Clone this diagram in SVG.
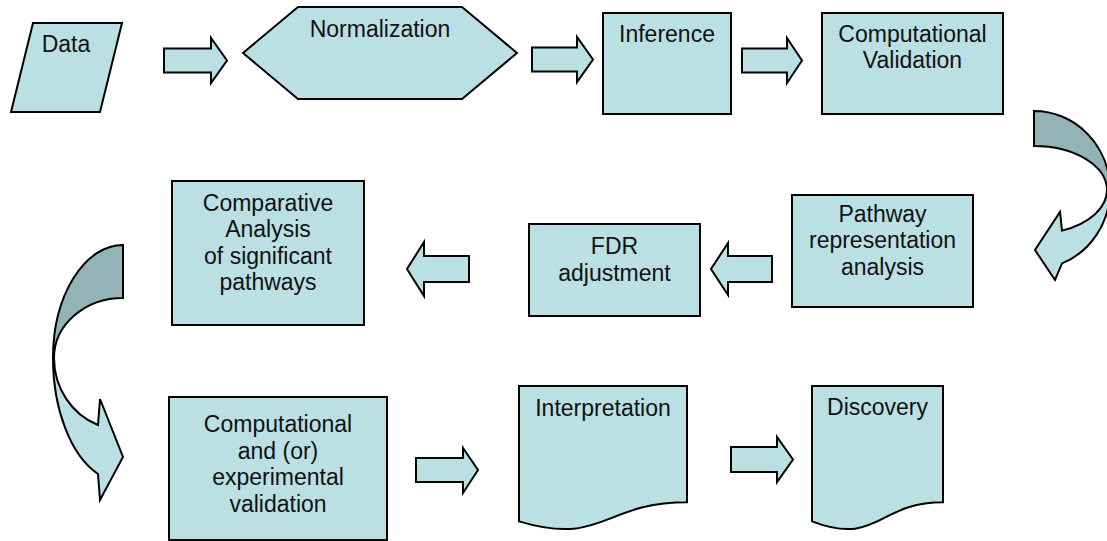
<svg xmlns="http://www.w3.org/2000/svg" width="1107" height="541" viewBox="0 0 1107 541">
<style>
.n{fill:#BBE0E3;stroke:#000;stroke-width:2;stroke-linejoin:miter}
.d{fill:#94B3B6;stroke:#000;stroke-width:2}
.a{fill:#BBE0E3;stroke:#000;stroke-width:2}
text{font-family:"Liberation Sans",Arial,sans-serif;font-size:23px;fill:#111;text-anchor:middle}
</style>
<rect width="1107" height="541" fill="#fff"/>
<g id="connectors">
<path class="a" d="M164,48.5H211V38L227,60.5L211,83V72.5H164Z"/>
<path class="a" d="M532,47.5H577V37L593,59.5L577,82V71.5H532Z"/>
<path class="a" d="M742,48.5H787V38L802,60.5L787,83V72.5H742Z"/>
<path class="a" d="M772,256H728V243L711,269L728,295V282H772Z"/>
<path class="a" d="M469,256H424V242L407,269L424,296V282H469Z"/>
<path class="a" d="M416,458H463V448L478,470L463,493V482H416Z"/>
<path class="a" d="M731,447H777V437L793,459.5L777,482V472H731Z"/>
<g id="curve-right">
<path class="d" d="M1034,111A76,79 0 0 1 1110,190L1107,190A73,44 0 0 0 1034,146Z"/>
<path class="a" d="M1110,190A76,79 0 0 1 1062,263.4L1055,280L1035,250L1060,212L1062,230.6A73,44 0 0 0 1107,190Z"/>
</g>
<g id="curve-left">
<path class="d" d="M123,245A70,113 0 0 0 53,358L54,358A69,60 0 0 1 123,298Z"/>
<path class="a" d="M53,358A70,124 0 0 0 98,474L100,500L123,457L100,399L98,425A69,72 0 0 1 54,358Z"/>
</g>
</g>
<g id="data"><path class="n" d="M33,23H122L100,112H11Z"/><text x="66" y="52">Data</text></g>
<g id="normalization"><path class="n" d="M243,53L298,7H462L517,53L462,99H298Z"/><text x="380" y="37">Normalization</text></g>
<g id="inference"><rect class="n" x="603" y="13" width="128" height="101"/><text x="667" y="42">Inference</text></g>
<g id="comp-validation"><rect class="n" x="822" y="13" width="181" height="101"/><text x="912.5" y="42">Computational</text><text x="912.5" y="68">Validation</text></g>
<g id="pathway"><rect class="n" x="792" y="195" width="181" height="112"/><text x="882.5" y="222">Pathway</text><text x="882.5" y="248">representation</text><text x="882.5" y="275">analysis</text></g>
<g id="fdr"><rect class="n" x="529" y="224" width="171" height="92"/><text x="614.5" y="254">FDR</text><text x="614.5" y="281">adjustment</text></g>
<g id="comparative"><rect class="n" x="172" y="181" width="192" height="144"/><text x="268" y="211">Comparative</text><text x="268" y="237">Analysis</text><text x="268" y="264">of significant</text><text x="268" y="290">pathways</text></g>
<g id="exp-validation"><rect class="n" x="169" y="397" width="218" height="143"/><text x="278" y="432">Computational</text><text x="278" y="459">and (or)</text><text x="278" y="485">experimental</text><text x="278" y="512">validation</text></g>
<g id="interpretation"><path class="n" d="M519,386H687V502.3C603,502.3 603,546.6 519,521.4Z"/><text x="603" y="416">Interpretation</text></g>
<g id="discovery"><path class="n" d="M812,386H943V502.3C877.5,502.3 877.5,546.6 812,521.4Z"/><text x="877.5" y="415">Discovery</text></g>
</svg>
